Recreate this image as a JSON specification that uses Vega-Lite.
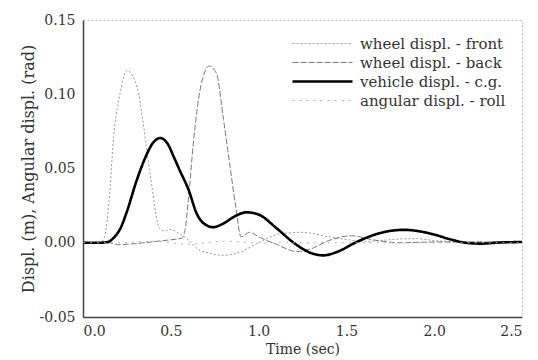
{
  "$schema": "https://vega.github.io/schema/vega-lite/v6.json",
  "width": 439,
  "height": 297,
  "autosize": "none",
  "padding": {"left": 83, "top": 20, "right": 16, "bottom": 43},
  "background": "white",
  "config": {
    "font": "DejaVu Serif",
    "view": {"stroke": "#bbbbbb", "strokeDash": [2, 2], "strokeWidth": 1},
    "axis": {"grid": false, "labelFont": "DejaVu Serif", "titleFont": "DejaVu Serif", "labelFontSize": 14, "titleFontSize": 14, "titleFontWeight": "normal", "labelColor": "#333", "titleColor": "#333", "domainColor": "#444", "domainWidth": 1.5, "ticks": false}
  },
  "data": {"values": [
    {"t": 0, "v": 0, "s": "wheel displ. - front"},
    {"t": 0.1, "v": 0, "s": "wheel displ. - front"},
    {"t": 0.12, "v": 0.003, "s": "wheel displ. - front"},
    {"t": 0.155, "v": 0.038, "s": "wheel displ. - front"},
    {"t": 0.17, "v": 0.065, "s": "wheel displ. - front"},
    {"t": 0.21, "v": 0.1, "s": "wheel displ. - front"},
    {"t": 0.25, "v": 0.116, "s": "wheel displ. - front"},
    {"t": 0.31, "v": 0.104, "s": "wheel displ. - front"},
    {"t": 0.34, "v": 0.083, "s": "wheel displ. - front"},
    {"t": 0.37, "v": 0.056, "s": "wheel displ. - front"},
    {"t": 0.39, "v": 0.04, "s": "wheel displ. - front"},
    {"t": 0.42, "v": 0.016, "s": "wheel displ. - front"},
    {"t": 0.44, "v": 0.009, "s": "wheel displ. - front"},
    {"t": 0.47, "v": 0.008, "s": "wheel displ. - front"},
    {"t": 0.5, "v": 0.009, "s": "wheel displ. - front"},
    {"t": 0.55, "v": 0.006, "s": "wheel displ. - front"},
    {"t": 0.6, "v": 0.002, "s": "wheel displ. - front"},
    {"t": 0.65, "v": -0.004, "s": "wheel displ. - front"},
    {"t": 0.72, "v": -0.007, "s": "wheel displ. - front"},
    {"t": 0.8, "v": -0.0085, "s": "wheel displ. - front"},
    {"t": 0.9, "v": -0.006, "s": "wheel displ. - front"},
    {"t": 1.0, "v": 0.0, "s": "wheel displ. - front"},
    {"t": 1.12, "v": 0.006, "s": "wheel displ. - front"},
    {"t": 1.25, "v": 0.007, "s": "wheel displ. - front"},
    {"t": 1.4, "v": 0.004, "s": "wheel displ. - front"},
    {"t": 1.62, "v": 0.001, "s": "wheel displ. - front"},
    {"t": 1.8, "v": 0.0025, "s": "wheel displ. - front"},
    {"t": 1.9, "v": 0.0028, "s": "wheel displ. - front"},
    {"t": 2.0, "v": 0.0015, "s": "wheel displ. - front"},
    {"t": 2.2, "v": 0.0005, "s": "wheel displ. - front"},
    {"t": 2.5, "v": 0.0005, "s": "wheel displ. - front"},

    {"t": 0, "v": 0, "s": "wheel displ. - back"},
    {"t": 0.15, "v": 0, "s": "wheel displ. - back"},
    {"t": 0.2, "v": -0.0013, "s": "wheel displ. - back"},
    {"t": 0.3, "v": -0.0006, "s": "wheel displ. - back"},
    {"t": 0.4, "v": 0.0007, "s": "wheel displ. - back"},
    {"t": 0.5, "v": 0.002, "s": "wheel displ. - back"},
    {"t": 0.56, "v": 0.003, "s": "wheel displ. - back"},
    {"t": 0.58, "v": 0.008, "s": "wheel displ. - back"},
    {"t": 0.6, "v": 0.029, "s": "wheel displ. - back"},
    {"t": 0.63, "v": 0.069, "s": "wheel displ. - back"},
    {"t": 0.67, "v": 0.105, "s": "wheel displ. - back"},
    {"t": 0.72, "v": 0.119, "s": "wheel displ. - back"},
    {"t": 0.76, "v": 0.114, "s": "wheel displ. - back"},
    {"t": 0.8, "v": 0.083, "s": "wheel displ. - back"},
    {"t": 0.84, "v": 0.049, "s": "wheel displ. - back"},
    {"t": 0.87, "v": 0.024, "s": "wheel displ. - back"},
    {"t": 0.9, "v": 0.004, "s": "wheel displ. - back"},
    {"t": 0.95, "v": 0.007, "s": "wheel displ. - back"},
    {"t": 1.0, "v": 0.004, "s": "wheel displ. - back"},
    {"t": 1.1, "v": -0.001, "s": "wheel displ. - back"},
    {"t": 1.22, "v": -0.006, "s": "wheel displ. - back"},
    {"t": 1.3, "v": -0.004, "s": "wheel displ. - back"},
    {"t": 1.4, "v": 0.0015, "s": "wheel displ. - back"},
    {"t": 1.53, "v": 0.0047, "s": "wheel displ. - back"},
    {"t": 1.65, "v": 0.002, "s": "wheel displ. - back"},
    {"t": 1.8, "v": 0.0, "s": "wheel displ. - back"},
    {"t": 2.0, "v": 0.0005, "s": "wheel displ. - back"},
    {"t": 2.5, "v": 0.0005, "s": "wheel displ. - back"},

    {"t": 0, "v": 0, "s": "vehicle displ. - c.g."},
    {"t": 0.1, "v": 0, "s": "vehicle displ. - c.g."},
    {"t": 0.14, "v": 0.0005, "s": "vehicle displ. - c.g."},
    {"t": 0.18, "v": 0.004, "s": "vehicle displ. - c.g."},
    {"t": 0.21, "v": 0.009, "s": "vehicle displ. - c.g."},
    {"t": 0.25, "v": 0.021, "s": "vehicle displ. - c.g."},
    {"t": 0.3, "v": 0.04, "s": "vehicle displ. - c.g."},
    {"t": 0.35, "v": 0.056, "s": "vehicle displ. - c.g."},
    {"t": 0.4, "v": 0.0675, "s": "vehicle displ. - c.g."},
    {"t": 0.44, "v": 0.0705, "s": "vehicle displ. - c.g."},
    {"t": 0.48, "v": 0.067, "s": "vehicle displ. - c.g."},
    {"t": 0.52, "v": 0.057, "s": "vehicle displ. - c.g."},
    {"t": 0.55, "v": 0.049, "s": "vehicle displ. - c.g."},
    {"t": 0.6, "v": 0.036, "s": "vehicle displ. - c.g."},
    {"t": 0.65, "v": 0.019, "s": "vehicle displ. - c.g."},
    {"t": 0.7, "v": 0.012, "s": "vehicle displ. - c.g."},
    {"t": 0.74, "v": 0.0105, "s": "vehicle displ. - c.g."},
    {"t": 0.8, "v": 0.013, "s": "vehicle displ. - c.g."},
    {"t": 0.86, "v": 0.0175, "s": "vehicle displ. - c.g."},
    {"t": 0.93, "v": 0.0205, "s": "vehicle displ. - c.g."},
    {"t": 1.0, "v": 0.019, "s": "vehicle displ. - c.g."},
    {"t": 1.1, "v": 0.01, "s": "vehicle displ. - c.g."},
    {"t": 1.2, "v": 0.0, "s": "vehicle displ. - c.g."},
    {"t": 1.3, "v": -0.007, "s": "vehicle displ. - c.g."},
    {"t": 1.37, "v": -0.0085, "s": "vehicle displ. - c.g."},
    {"t": 1.45, "v": -0.006, "s": "vehicle displ. - c.g."},
    {"t": 1.55, "v": 0.0, "s": "vehicle displ. - c.g."},
    {"t": 1.65, "v": 0.005, "s": "vehicle displ. - c.g."},
    {"t": 1.75, "v": 0.008, "s": "vehicle displ. - c.g."},
    {"t": 1.83, "v": 0.0087, "s": "vehicle displ. - c.g."},
    {"t": 1.9, "v": 0.008, "s": "vehicle displ. - c.g."},
    {"t": 2.0, "v": 0.0055, "s": "vehicle displ. - c.g."},
    {"t": 2.1, "v": 0.002, "s": "vehicle displ. - c.g."},
    {"t": 2.2, "v": -0.0003, "s": "vehicle displ. - c.g."},
    {"t": 2.27, "v": -0.0006, "s": "vehicle displ. - c.g."},
    {"t": 2.35, "v": 0.0, "s": "vehicle displ. - c.g."},
    {"t": 2.5, "v": 0.0005, "s": "vehicle displ. - c.g."},

    {"t": 0, "v": 0, "s": "angular displ. - roll"},
    {"t": 0.2, "v": 0, "s": "angular displ. - roll"},
    {"t": 0.4, "v": 0.001, "s": "angular displ. - roll"},
    {"t": 0.6, "v": -0.001, "s": "angular displ. - roll"},
    {"t": 0.8, "v": 0.001, "s": "angular displ. - roll"},
    {"t": 1.0, "v": 0.0, "s": "angular displ. - roll"},
    {"t": 1.5, "v": 0.0, "s": "angular displ. - roll"},
    {"t": 2.5, "v": 0.0, "s": "angular displ. - roll"}
  ]},
  "mark": {"type": "line", "interpolate": "monotone", "clip": true},
  "encoding": {
    "x": {"field": "t", "type": "quantitative", "title": "Time (sec)",
      "scale": {"domain": [0, 2.5], "nice": false},
      "axis": {"values": [0, 0.5, 1, 1.5, 2, 2.5], "format": ".1f", "labelPadding": 7, "titlePadding": 4}},
    "y": {"field": "v", "type": "quantitative", "title": "Displ. (m),  Angular displ. (rad)",
      "scale": {"domain": [-0.05, 0.15], "nice": false},
      "axis": {"values": [-0.05, 0, 0.05, 0.1, 0.15], "format": ".2f", "labelExpr": "replace(datum.label, '\u2212', '-')", "labelPadding": 8, "titlePadding": 3, "titleFontSize": 16}},
    "color": {"field": "s", "type": "nominal", "title": null,
      "scale": {"domain": ["wheel displ. - front", "wheel displ. - back", "vehicle displ. - c.g.", "angular displ. - roll"], "range": ["#9a9a9a", "#7a7a7a", "#000000", "#b0b0b0"]},
      "legend": {"orient": "top-right", "offset": 16, "symbolType": "M0,0H10", "symbolSize": 144, "labelOffset": 60, "labelFontSize": 15, "labelFont": "DejaVu Serif", "labelColor": "#333", "rowPadding": 3}},
    "strokeDash": {"field": "s", "type": "nominal", "legend": null,
      "scale": {"domain": ["wheel displ. - front", "wheel displ. - back", "vehicle displ. - c.g.", "angular displ. - roll"], "range": [[2, 2], [6, 2], [1, 0], [2, 5]]}},
    "strokeWidth": {"field": "s", "type": "nominal", "legend": null,
      "scale": {"type": "ordinal", "domain": ["wheel displ. - front", "wheel displ. - back", "vehicle displ. - c.g.", "angular displ. - roll"], "range": [1, 1, 2.6, 1]}}
  }
}
